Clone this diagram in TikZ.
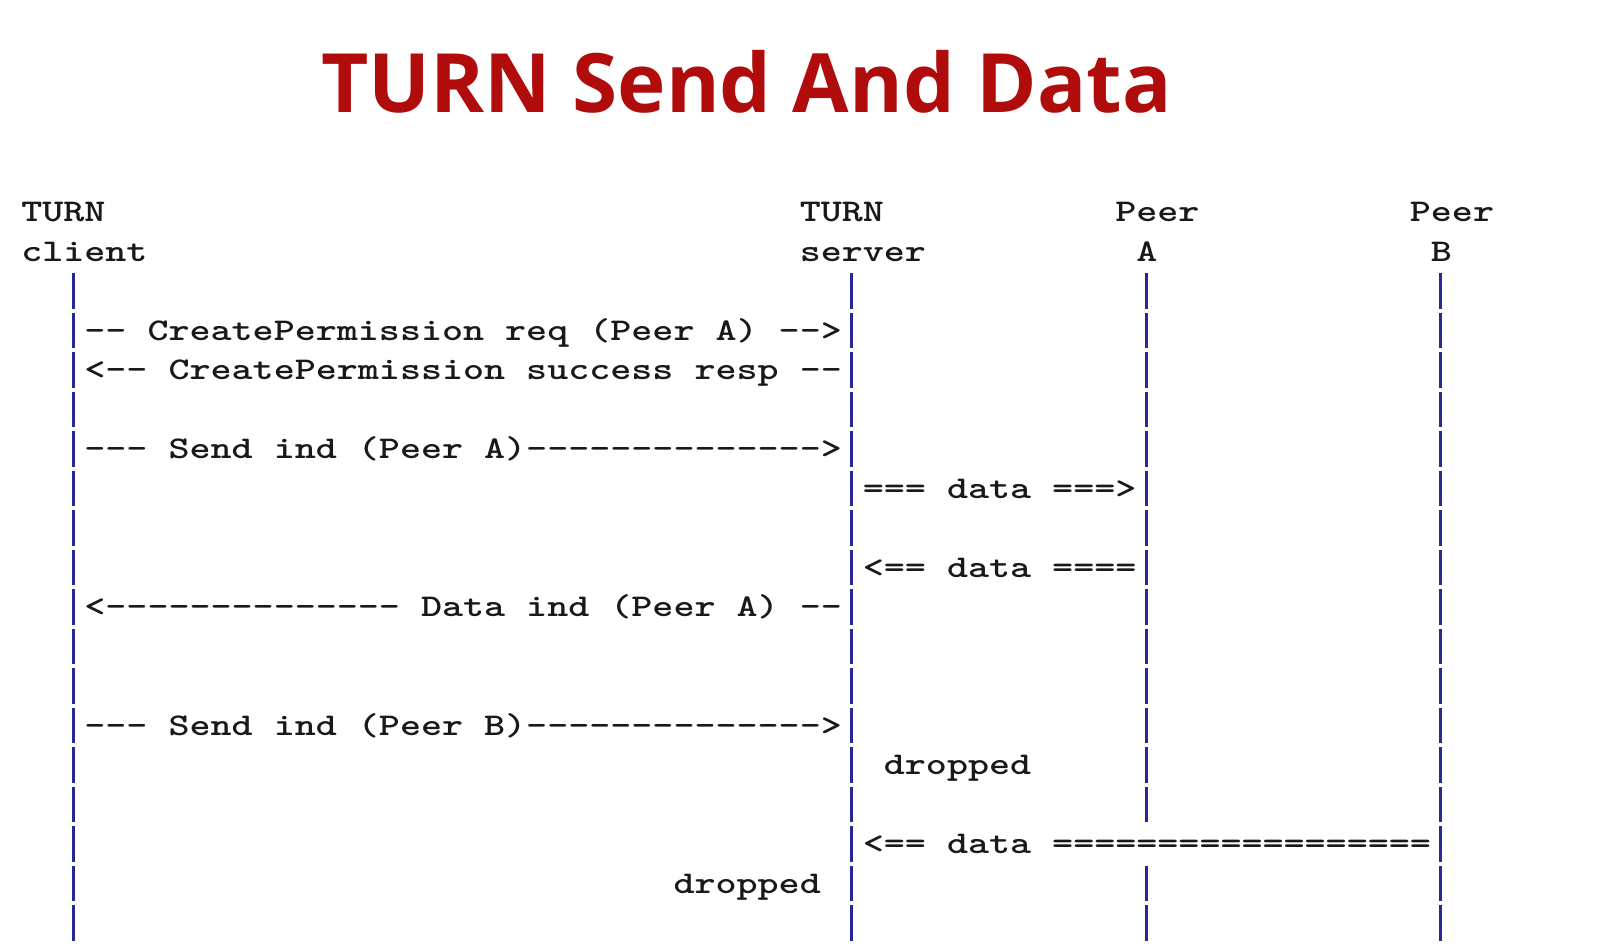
\documentclass[tikz,border=0pt]{standalone}
\usepackage{fontspec}
\setmonofont{lmmonolt10-bold.otf}[FakeStretch=1.267]
\newfontfamily\titlefont{Open Sans}
\usetikzlibrary{positioning}
\definecolor{turnred}{RGB}{176, 12, 12}
\definecolor{turnnavy}{RGB}{40, 40, 150}
\definecolor{turnink}{RGB}{25, 25, 25}
\newcommand{\asciisize}{\ttfamily\fontsize{9}{11.24}\selectfont}

\begin{document}
\begin{tikzpicture}[
		% one unit = one character cell across, one text row down
		x=0.2104cm, y=-0.395cm,
		% Node styles
		title/.style={font=\titlefont\bfseries\fontsize{23.3}{28}\selectfont, text=turnred,
				inner sep=0pt, anchor=base},
		party/.style={font=\asciisize, text=turnink, align=left, anchor=base west, inner sep=0pt},
		msg/.style={font=\asciisize, text=turnink, anchor=base west, inner sep=0pt},
		lifeline/.style={draw=turnnavy, line width=0.9pt, dash pattern=on 0.355cm off 0.04cm},
	]

	\useasboundingbox (-0.979,-5.62) rectangle (75.64,18.355);

	% Title
	\node[title] (title) at (34.5,-2.78) {TURN Send And Data};

	% Participants (base = second line)
	\node[party] (client) at (0,1) {TURN\\client};
	\node[party] (server) at (37,1) {TURN\\server};
	\node[party] (peerA) at (52,1) {Peer\\\hphantom{P}A};
	\node[party] (peerB) at (66,1) {Peer\\\hphantom{P}B};

	% Lifelines
	\foreach \who/\c in {client/2, server/39, peerA/53, peerB/67} {
		\coordinate (\who-top) at (\c+0.5,1.304);
		\coordinate (\who-end) at (\c+0.5,18.24);
	}
	\coordinate (peerA-cut) at (53.5,15.24);
	\coordinate (peerA-resume) at (53.5,16.304);

	\draw[lifeline] (client-top) -- (client-end);
	\draw[lifeline] (server-top) -- (server-end);
	\draw[lifeline] (peerA-top) -- (peerA-cut);
	\draw[lifeline] (peerA-resume) -- (peerA-end);
	\draw[lifeline] (peerB-top) -- (peerB-end);

	% Messages
	\node[msg] (req) at (3,3) {-- CreatePermission req (Peer A) -->};
	\node[msg] (resp) at (3,4) {<-- CreatePermission success resp --};
	\node[msg] (sendA) at (3,6) {--- Send ind (Peer A)-------------->};
	\node[msg] (relayA) at (40,7) {=== data ===>};
	\node[msg] (backA) at (40,9) {<== data ====};
	\node[msg] (dataind) at (3,10) {<-------------- Data ind (Peer A) --};
	\node[msg] (sendB) at (3,13) {--- Send ind (Peer B)-------------->};
	\node[msg] (dropB) at (41,14) {dropped};
	\node[msg] (backB) at (40,16) {<== data ==================};
	\node[msg] (dropC) at (31,17) {dropped};

\end{tikzpicture}
\end{document}
